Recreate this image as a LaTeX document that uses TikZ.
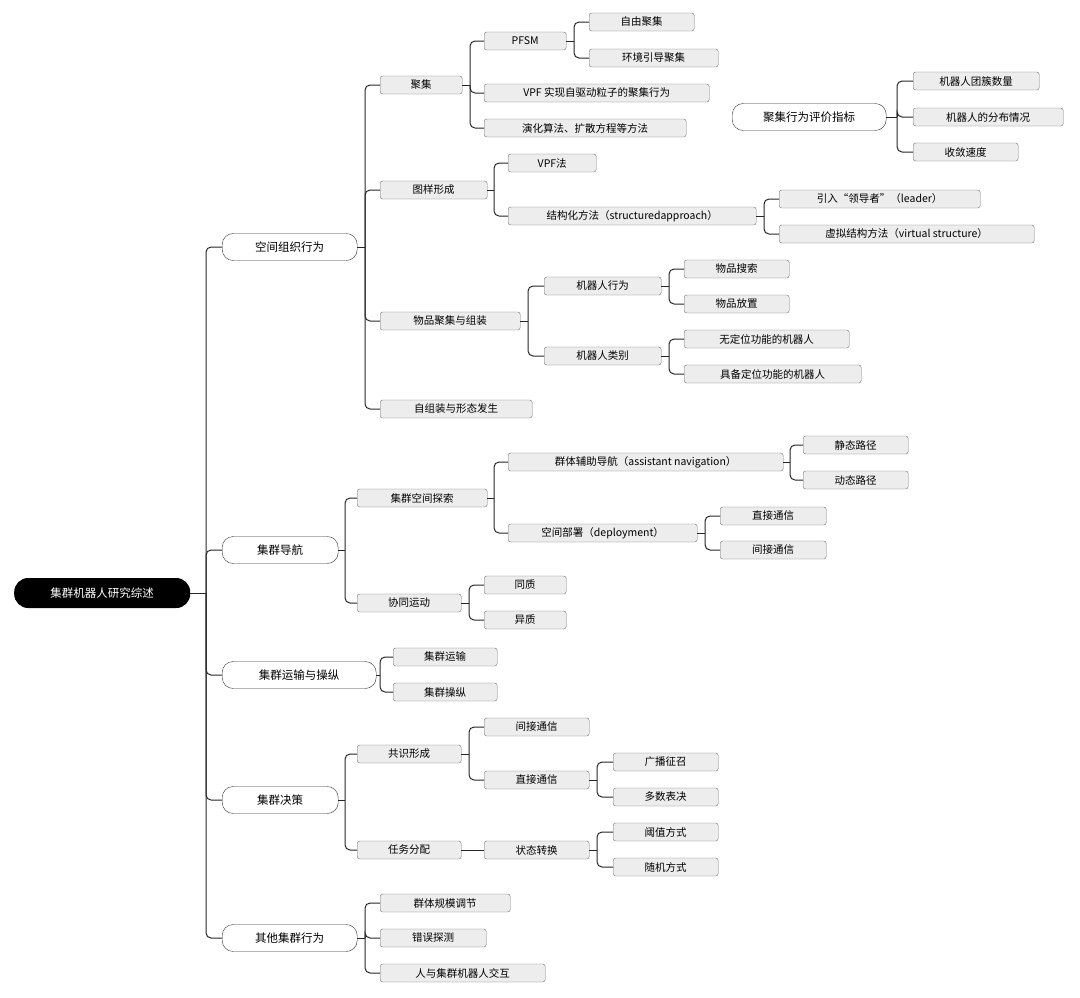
\documentclass[tikz,border=0pt]{standalone}
\usepackage{fontspec}
\setmainfont{Noto Sans CJK SC}
\begin{document}
\begin{tikzpicture}[x=1pt,y=-1pt,
 leaf/.style={draw=black!55,fill=black!7,rounded corners=2.5pt,minimum height=18pt,inner xsep=0pt,inner ysep=0pt,font=\fontsize{10.5}{12}\selectfont,anchor=west},
 main/.style={draw=black!80,fill=white,rounded corners=11pt,minimum height=27pt,inner xsep=0pt,font=\fontsize{11.5}{13}\selectfont,anchor=west},
 root/.style={fill=black,text=white,rounded corners=14pt,minimum height=30pt,inner xsep=0pt,font=\fontsize{11.5}{13}\selectfont,anchor=west},
 ln/.style={line width=1pt,black!85}]
\useasboundingbox (0,0) rectangle (1080,997);
\newcommand\bx[6]{\node[#5,minimum width={(#3-#2)*1pt}] (#1) at (#2,#4) {#6};}
\newcommand\cn[3]{\path (#3,0) coordinate (tmpb);
 \draw[ln] (#1.east) -- (#1.east -| tmpb);
 \draw[ln,rounded corners=5pt] (#1.east -| tmpb) |- (#2.west);}
\bx{r}{14}{190}{593}{root}{集群机器人研究综述}
\bx{a}{222}{357}{247}{main}{空间组织行为}
\bx{b}{222}{338}{550}{main}{集群导航}
\bx{c}{222}{376}{675}{main}{集群运输与操纵}
\bx{d}{222}{338}{800}{main}{集群决策}
\bx{e}{222}{357}{938}{main}{其他集群行为}
\foreach \t in {a,b,c,d,e}{\cn{r}{\t}{206}}
% A
\bx{a1}{380}{462}{85}{leaf}{聚集}
\bx{a2}{380}{487}{190}{leaf}{图样形成}
\bx{a3}{380}{520}{321}{leaf}{物品聚集与组装}
\bx{a4}{380}{532}{409}{leaf}{自组装与形态发生}
\foreach \t in {a1,a2,a3,a4}{\cn{a}{\t}{365}}
\bx{a11}{484}{566}{41}{leaf}{PFSM}
\bx{a12}{484}{709}{93}{leaf}{VPF 实现自驱动粒子的聚集行为}
\bx{a13}{484}{686}{128}{leaf}{演化算法、扩散方程等方法}
\foreach \t in {a11,a12,a13}{\cn{a1}{\t}{470}}
\bx{a111}{589}{694}{22}{leaf}{自由聚集}
\bx{a112}{589}{718}{58}{leaf}{环境引导聚集}
\foreach \t in {a111,a112}{\cn{a11}{\t}{574}}
\bx{a21}{508}{596}{163}{leaf}{VPF法}
\bx{a22}{508}{756}{216}{leaf}{结构化方法（structuredapproach）}
\foreach \t in {a21,a22}{\cn{a2}{\t}{494}}
\bx{a221}{779}{980}{199}{leaf}{引入“领导者”（leader）}
\bx{a222}{779}{1034}{234}{leaf}{虚拟结构方法（virtual structure）}
\foreach \t in {a221,a222}{\cn{a22}{\t}{764}}
\bx{a31}{544}{661}{286}{leaf}{机器人行为}
\bx{a32}{544}{661}{356}{leaf}{机器人类别}
\foreach \t in {a31,a32}{\cn{a3}{\t}{528}}
\bx{a311}{684}{789}{269}{leaf}{物品搜索}
\bx{a312}{684}{789}{304}{leaf}{物品放置}
\foreach \t in {a311,a312}{\cn{a31}{\t}{669}}
\bx{a321}{684}{849}{339}{leaf}{无定位功能的机器人}
\bx{a322}{684}{861}{374}{leaf}{具备定位功能的机器人}
\foreach \t in {a321,a322}{\cn{a32}{\t}{669}}
% eval
\bx{f}{732}{886}{117}{main}{聚集行为评价指标}
\bx{f1}{913}{1039}{81}{leaf}{机器人团簇数量}
\bx{f2}{913}{1063}{117}{leaf}{机器人的分布情况}
\bx{f3}{913}{1018}{152}{leaf}{收敛速度}
\foreach \t in {f1,f2,f3}{\cn{f}{\t}{897}}
% B
\bx{b1}{357}{487}{498}{leaf}{集群空间探索}
\bx{b2}{357}{461}{603}{leaf}{协同运动}
\foreach \t in {b1,b2}{\cn{b}{\t}{345}}
\bx{b11}{508}{783}{462}{leaf}{群体辅助导航（assistant navigation）}
\bx{b12}{508}{697}{533}{leaf}{空间部署（deployment）}
\foreach \t in {b11,b12}{\cn{b1}{\t}{494}}
\bx{b111}{803}{908}{445}{leaf}{静态路径}
\bx{b112}{803}{908}{480}{leaf}{动态路径}
\foreach \t in {b111,b112}{\cn{b11}{\t}{790}}
\bx{b121}{720}{826}{516}{leaf}{直接通信}
\bx{b122}{720}{826}{550}{leaf}{间接通信}
\foreach \t in {b121,b122}{\cn{b12}{\t}{705}}
\bx{b21}{484}{566}{585}{leaf}{同质}
\bx{b22}{484}{566}{620}{leaf}{异质}
\foreach \t in {b21,b22}{\cn{b2}{\t}{469}}
% C
\bx{c1}{393}{497}{657}{leaf}{集群运输}
\bx{c2}{393}{497}{692}{leaf}{集群操纵}
\foreach \t in {c1,c2}{\cn{c}{\t}{380}}
% D
\bx{d1}{357}{461}{754}{leaf}{共识形成}
\bx{d2}{357}{461}{850}{leaf}{任务分配}
\foreach \t in {d1,d2}{\cn{d}{\t}{345}}
\bx{d11}{484}{589}{727}{leaf}{间接通信}
\bx{d12}{484}{589}{780}{leaf}{直接通信}
\foreach \t in {d11,d12}{\cn{d1}{\t}{469}}
\bx{d121}{613}{718}{762}{leaf}{广播征召}
\bx{d122}{613}{718}{797}{leaf}{多数表决}
\foreach \t in {d121,d122}{\cn{d12}{\t}{597}}
\bx{d21}{484}{589}{850}{leaf}{状态转换}
\draw[ln] (d2.east) -- (d21.west);
\bx{d211}{613}{718}{832}{leaf}{阈值方式}
\bx{d212}{613}{718}{867}{leaf}{随机方式}
\foreach \t in {d211,d212}{\cn{d21}{\t}{597}}
% E
\bx{e1}{380}{510}{903}{leaf}{群体规模调节}
\bx{e2}{380}{486}{938}{leaf}{错误探测}
\bx{e3}{380}{545}{973}{leaf}{人与集群机器人交互}
\foreach \t in {e1,e2,e3}{\cn{e}{\t}{365}}
\end{tikzpicture}
\end{document}
